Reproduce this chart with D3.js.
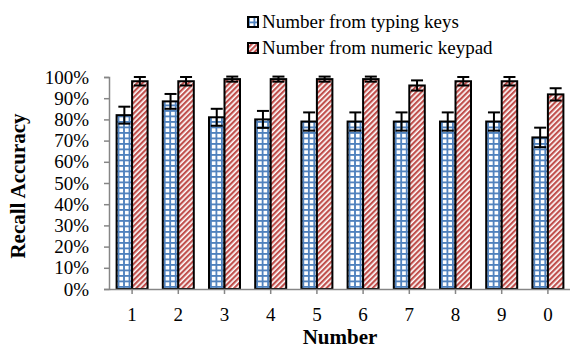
<!DOCTYPE html>
<html>
<head>
<meta charset="utf-8">
<script src="https://cdn.jsdelivr.net/npm/d3@7"></script>
<style>
  html, body { margin: 0; padding: 0; background: #fff; }
  svg { display: block; }
  text { font-family: "Liberation Serif", "Times New Roman", serif; fill: #000; }
</style>
</head>
<body>
<svg id="chart" width="570" height="349"></svg>
<script>
// Digits that were recalled, in the order shown on the axis
const categories = ["1", "2", "3", "4", "5", "6", "7", "8", "9", "0"];
// Recall accuracy (%) per digit, with error-bar half widths (%)
const typingKeys    = [82, 88.5, 81, 80, 79, 79, 79, 79, 79, 71.5];
const typingErr     = [4, 3.5, 4, 4, 4.3, 4.3, 4.3, 4.3, 4.3, 4.6];
const numericKeypad = [98, 98, 99, 99, 99, 99, 96, 98, 98, 91.8];
const keypadErr     = [2, 2, 1.2, 1.2, 1.2, 1.2, 2.4, 2, 2, 2.9];
const seriesNames = ["Number from typing keys", "Number from numeric keypad"];
const yTicks = [0, 10, 20, 30, 40, 50, 60, 70, 80, 90, 100];

const serif = "'Liberation Serif', 'Times New Roman', serif";
const svg = d3.select("#chart");
const defs = svg.append("defs");

// Blue grid fill
const cell = 5.5;
const grid = defs.append("pattern")
  .attr("id", "gridFill").attr("patternUnits", "userSpaceOnUse")
  .attr("width", cell).attr("height", cell).attr("x", 1).attr("y", 0);
grid.append("rect").attr("width", cell).attr("height", cell).attr("fill", "#fff");
grid.append("rect").attr("x", 0).attr("y", 0).attr("width", 1.8).attr("height", cell).attr("fill", "#4F81BD");
grid.append("rect").attr("x", 0).attr("y", 0).attr("width", cell).attr("height", 1.8).attr("fill", "#4F81BD");

// Red diagonal stripe fill
const stripes = defs.append("pattern")
  .attr("id", "stripeFill").attr("patternUnits", "userSpaceOnUse")
  .attr("width", 3.8).attr("height", 3.8)
  .attr("patternTransform", "rotate(45)");
stripes.append("rect").attr("width", 3.8).attr("height", 3.8).attr("fill", "#fff");
stripes.append("rect").attr("width", 2.2).attr("height", 3.8).attr("fill", "#C0504D");

const fills = ["url(#gridFill)", "url(#stripeFill)"];

const x0 = d3.scaleBand().domain(categories).range([109, 571]).paddingInner(0).paddingOuter(0);
const groupW = 31;
const x1 = d3.scaleBand().domain([0, 1]).range([0, groupW]);
const y = d3.scaleLinear().domain([0, 100]).range([289, 77]);

const axisColor = "#868686";

// Y axis
const yAxis = svg.append("g").attr("transform", "translate(109,0)")
  .call(d3.axisLeft(y).tickValues(yTicks).tickSize(5).tickPadding(15).tickFormat(d => d + "%"))
  .attr("font-family", serif).attr("font-size", 19);
yAxis.select(".domain").attr("stroke", axisColor).attr("stroke-width", 1.5);
yAxis.selectAll(".tick line").attr("stroke", axisColor).attr("stroke-width", 1.5);
yAxis.selectAll(".tick text").style("font-size", "19px").style("font-family", serif).attr("fill", "#000");

// Bars
const rows = categories.map((c, i) => ({
  cat: c,
  vals: [
    { s: 0, v: typingKeys[i], e: typingErr[i] },
    { s: 1, v: numericKeypad[i], e: keypadErr[i] }
  ]
}));

const groups = svg.append("g").selectAll("g").data(rows).join("g")
  .attr("transform", d => `translate(${x0(d.cat) + (x0.bandwidth() - groupW) / 2},0)`);

groups.selectAll("rect").data(d => d.vals).join("rect")
  .attr("x", d => x1(d.s))
  .attr("y", d => y(d.v))
  .attr("width", x1.bandwidth())
  .attr("height", d => y(0) - y(d.v))
  .attr("fill", d => fills[d.s])
  .attr("stroke", "#000")
  .attr("stroke-width", 2);

// Error bars
const capW = 12;
const eb = groups.selectAll("g.err").data(d => d.vals).join("g").attr("class", "err")
  .attr("transform", d => `translate(${x1(d.s) + x1.bandwidth() / 2},0)`);
eb.append("line").attr("x1", 0).attr("x2", 0)
  .attr("y1", d => y(d.v + d.e)).attr("y2", d => y(d.v - d.e))
  .attr("stroke", "#000").attr("stroke-width", 2);
eb.append("line").attr("x1", -capW / 2).attr("x2", capW / 2)
  .attr("y1", d => y(d.v + d.e)).attr("y2", d => y(d.v + d.e))
  .attr("stroke", "#000").attr("stroke-width", 2);
eb.append("line").attr("x1", -capW / 2).attr("x2", capW / 2)
  .attr("y1", d => y(d.v - d.e)).attr("y2", d => y(d.v - d.e))
  .attr("stroke", "#000").attr("stroke-width", 2);

// X axis (ticks at category centres)
const xAxis = svg.append("g").attr("transform", "translate(0,289)")
  .call(d3.axisBottom(x0).tickSize(5).tickPadding(14).tickSizeOuter(0))
  .attr("font-family", serif).attr("font-size", 19);
xAxis.select(".domain").attr("stroke", axisColor).attr("stroke-width", 1.5);
xAxis.selectAll(".tick line").attr("stroke", axisColor).attr("stroke-width", 1.5);
xAxis.selectAll(".tick text").style("font-size", "19px").style("font-family", serif).attr("fill", "#000");

// Axis titles
svg.append("text").attr("x", 340).attr("y", 344).attr("text-anchor", "middle")
  .style("font-size", "21px").style("font-weight", "bold").text("Number");
svg.append("text").attr("transform", "translate(25,186) rotate(-90)").attr("text-anchor", "middle")
  .style("font-size", "21px").style("font-weight", "bold").text("Recall Accuracy");

// Legend
const legend = svg.append("g").selectAll("g").data(seriesNames).join("g")
  .attr("transform", (d, i) => `translate(247,${16 + i * 26})`);
legend.append("rect").attr("x", 1).attr("y", 1).attr("width", 10).attr("height", 10)
  .attr("fill", (d, i) => fills[i]).attr("stroke", "#000").attr("stroke-width", 2);
legend.append("text").attr("x", 15).attr("y", 12).style("font-size", "19px").text(d => d);
</script>
</body>
</html>
